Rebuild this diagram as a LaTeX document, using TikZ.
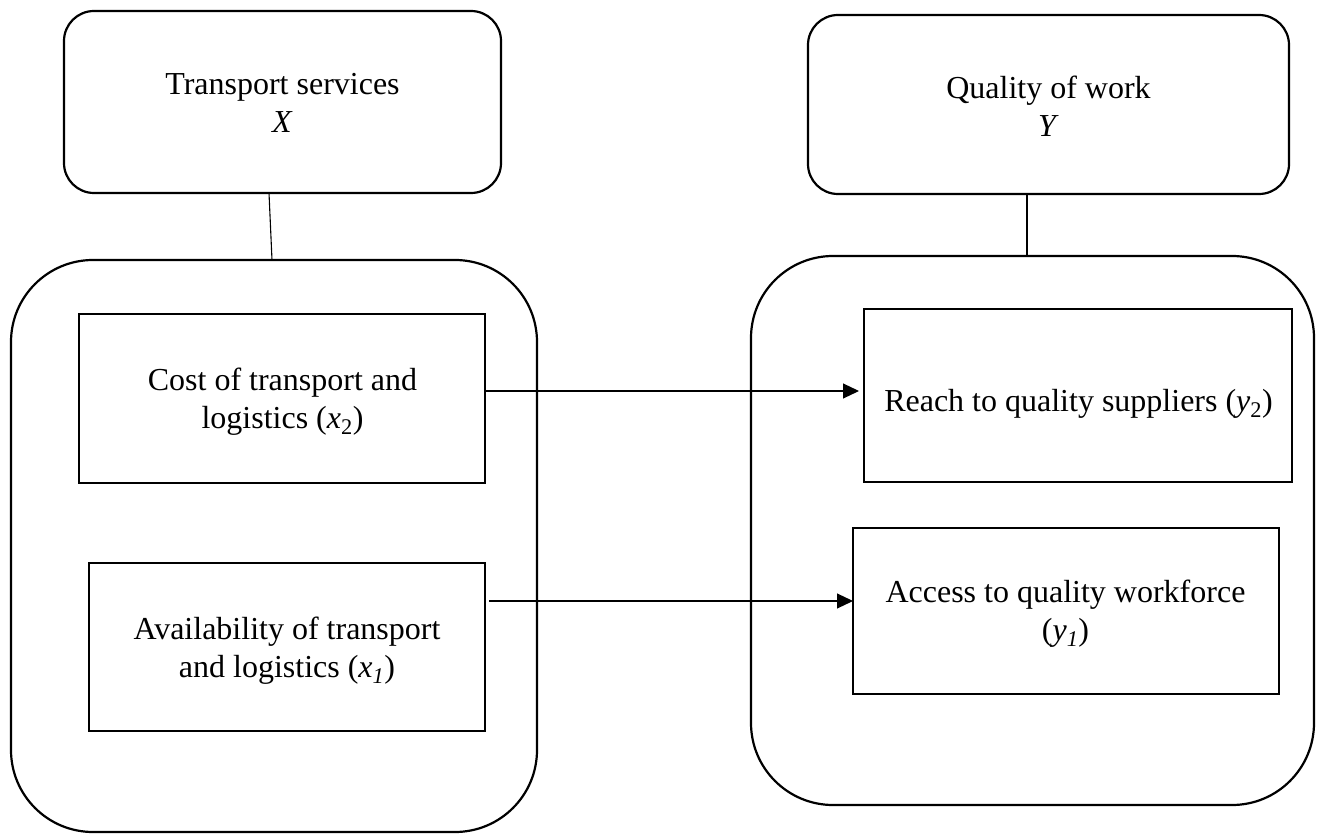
\documentclass[tikz,border=0pt]{standalone}
\usepackage{fontspec}
\setmainfont{Liberation Serif}
\usetikzlibrary{arrows.meta}

\begin{document}
\begin{tikzpicture}[x=1pt,y=-1pt,
  every node/.style={inner sep=0pt,outer sep=0pt},
  headbox/.style={draw,line width=2.2pt,rounded corners=30pt},
  groupbox/.style={draw,line width=2.2pt,rounded corners=82pt},
  varbox/.style={draw,line width=2.2pt},
  lbl/.style={align=center,font=\fontsize{32}{38}\selectfont},
  link/.style={line width=1.1pt},
  arr/.style={line width=1.1pt,-{Triangle[length=16pt,width=15pt]}}]
\useasboundingbox (0,0) rectangle (1317,834);

% headline boxes
\node[headbox,minimum width=437pt,minimum height=182pt] (tl) at (282.5,102) {};
\node[lbl] (tltext) at (282.5,102.5) {Transport services\\\textit{X}};
\node[headbox,minimum width=481pt,minimum height=179pt] (tr) at (1048.5,104.5) {};
\node[lbl] (trtext) at (1048.5,106) {Quality of work\\\textit{Y}};

% group containers
\node[groupbox,minimum width=526pt,minimum height=572pt] (bl) at (274,546) {};
\node[groupbox,minimum width=563pt,minimum height=549pt] (br) at (1032.5,530.5) {};

% links from headlines to groups
\draw[link] ([xshift=-13.5pt]tl.south) -- ([xshift=-2pt]bl.north);
\draw[link] ([xshift=-21.5pt]tr.south) -- ([xshift=-5.5pt]br.north);

% variables X
\node[varbox,minimum width=406pt,minimum height=169pt] (cost) at (282,398.5) {};
\node[lbl] (costtext) at (282.5,401.5) {Cost of transport and\\logistics (\textit{x}\textsubscript{2})};
\node[varbox,minimum width=396pt,minimum height=168pt] (avail) at (287,647) {};
\node[lbl] (availtext) at (287,650.5) {Availability of transport\\and logistics (\textit{x\textsubscript{1}})};

% variables Y
\node[varbox,minimum width=428pt,minimum height=173pt] (reach) at (1078,395.5) {};
\node[lbl] (reachtext) at (1078.5,404) {Reach to quality suppliers (\textit{y}\textsubscript{2})};
\node[varbox,minimum width=426pt,minimum height=166pt] (access) at (1066,611) {};
\node[lbl] (accesstext) at (1065.5,613.5) {Access to quality workforce\\(\textit{y\textsubscript{1}})};

% relations
\draw[arr,shorten >=5pt] ([yshift=7.5pt]cost.east) -- ([yshift=4.5pt]reach.west);
\draw[arr,shorten <=4pt] ([yshift=46pt]avail.east) -- ([yshift=10pt]access.west);
\end{tikzpicture}
\end{document}
